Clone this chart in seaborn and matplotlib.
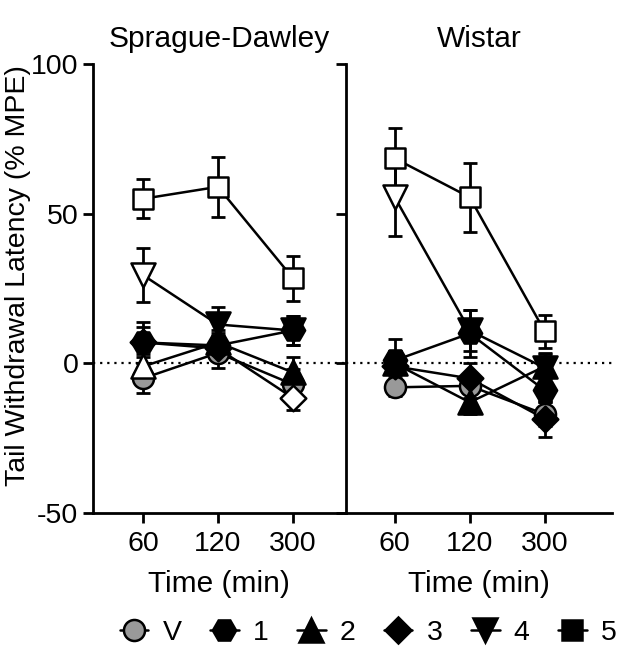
import numpy as np
import pandas as pd
import matplotlib
matplotlib.use("Agg")
import matplotlib.pyplot as plt
from matplotlib.lines import Line2D
import seaborn as sns

# time points (min) and dose groups
times = ["60", "120", "300"]
groups = ["V", "1", "2", "3", "4", "5"]
strains = ["Sprague-Dawley", "Wistar"]

# mean %MPE
sd_mean = {
    "V": [-5, 3.5, -7],
    "1": [7, 6, 11],
    "2": [-1, 7, -3],
    "3": [7, 5, -11.5],
    "4": [29.5, 13, 11],
    "5": [55, 59, 28.5],
}
sd_sem = {
    "V": [5, 5, 5],
    "1": [7, 4, 5],
    "2": [4, 4, 5],
    "3": [5, 4, 4],
    "4": [9, 6, 5],
    "5": [6.5, 10, 7.5],
}
wi_mean = {
    "V": [-8, -7.5, -17],
    "1": [1, 10, -9],
    "2": [0, -13, -1],
    "3": [-1, -5, -18.5],
    "4": [55.5, 11, -1.5],
    "5": [68.5, 55.5, 10.7],
}
wi_sem = {
    "V": [3, 4, 4],
    "1": [7, 8, 4],
    "2": [4, 4, 4],
    "3": [5, 5, 6],
    "4": [13, 7, 5],
    "5": [10, 11.5, 5.5],
}
# points drawn with open symbols (group, time index)
sd_open = [("5", 0), ("5", 1), ("5", 2), ("4", 0), ("2", 0), ("3", 2)]
wi_open = [("5", 0), ("5", 1), ("5", 2), ("4", 0)]

marker_map = {"V": "o", "1": "H", "2": "^", "3": "D", "4": "v", "5": "s"}
size_map = {"V": 230, "1": 280, "2": 300, "3": 170, "4": 300, "5": 210}
fill_map = {"V": "#999999", "1": "black", "2": "black", "3": "black", "4": "black", "5": "black"}


def make_df(means, sems, opens):
    rows = []
    for g in groups:
        for i, t in enumerate(times):
            rows.append({"group": g, "time": t, "pos": i, "mpe": means[g][i],
                         "err": sems[g][i], "is_open": (g, i) in opens})
    return pd.DataFrame(rows)


dfs = [make_df(sd_mean, sd_sem, sd_open), make_df(wi_mean, wi_sem, wi_open)]

sns.set_style("ticks")
plt.rcParams["font.family"] = ["Liberation Sans", "DejaVu Sans"]
plt.rcParams["text.color"] = "black"
plt.rcParams["axes.labelcolor"] = "black"
plt.rcParams["xtick.color"] = "black"
plt.rcParams["ytick.color"] = "black"
plt.rcParams["axes.edgecolor"] = "black"

fig = plt.figure(figsize=(6.19, 6.54), dpi=100)
ax1 = fig.add_axes([0.150, 0.2155, 0.409, 0.6865])
ax2 = fig.add_axes([0.559, 0.2155, 0.430, 0.6865])

for ax, df, title in zip([ax1, ax2], dfs, strains):
    ax.axhline(0, color="black", ls=(0, (1, 2.2)), lw=1.6, zorder=1)
    sns.lineplot(data=df, x="pos", y="mpe", hue="group", palette=["black"] * 6,
                 estimator=None, lw=1.8, legend=False, ax=ax, zorder=2)
    for g in groups:
        sub = df[df["group"] == g]
        ax.errorbar(sub["pos"], sub["mpe"], yerr=sub["err"], fmt="none", ecolor="black",
                    elinewidth=2, capsize=5, capthick=2, zorder=3)
    for g in groups:
        sub = df[(df["group"] == g) & (~df["is_open"])]
        if len(sub):
            sns.scatterplot(data=sub, x="pos", y="mpe", marker=marker_map[g],
                            s=size_map[g], color=fill_map[g], edgecolor="black",
                            linewidth=1.8, ax=ax, zorder=4, legend=False)
        sub = df[(df["group"] == g) & (df["is_open"])]
        if len(sub):
            sns.scatterplot(data=sub, x="pos", y="mpe", marker=marker_map[g],
                            s=size_map[g], color="white", edgecolor="black",
                            linewidth=1.8, ax=ax, zorder=5, legend=False)

    ax.set_ylim(-50, 100)
    ax.set_xticks(range(3))
    ax.set_xticklabels(times)
    ax.set_yticks([-50, 0, 50, 100])
    ax.set_xlabel("Time (min)", fontsize=21.5, labelpad=9)
    ax.set_title(title, fontsize=21.5, pad=12)
    ax.tick_params(axis="both", labelsize=20.5, width=2, length=7, direction="out")
    ax.tick_params(axis="x", pad=6)
    ax.spines["top"].set_visible(False)
    ax.spines["right"].set_visible(False)
    ax.spines["left"].set_linewidth(2)
    ax.spines["bottom"].set_linewidth(2)

ax1.set_xlim(-0.67, 2.71)
ax2.set_xlim(-0.65, 2.9)
ax1.set_yticklabels(["-50", "0", "50", "100"])
ax1.set_ylabel("Tail Withdrawal Latency (% MPE)", fontsize=20.5)
ax1.yaxis.set_label_coords(-0.245, 0.53)
ax2.set_ylabel("")
ax2.set_yticklabels([])

handles = []
for g in groups:
    handles.append(Line2D([], [], color="black", lw=1.8, marker=marker_map[g],
                          markersize=np.sqrt(size_map[g]), markerfacecolor=fill_map[g],
                          markeredgecolor="black", markeredgewidth=1.8))
fig.legend(handles, groups, loc="center", bbox_to_anchor=(0.595, 0.032), ncol=6,
           frameon=False, fontsize=20.5, handlelength=1.0, handletextpad=0.5,
           columnspacing=1.0, borderpad=0.1)

fig.savefig("out.png", dpi=100)
